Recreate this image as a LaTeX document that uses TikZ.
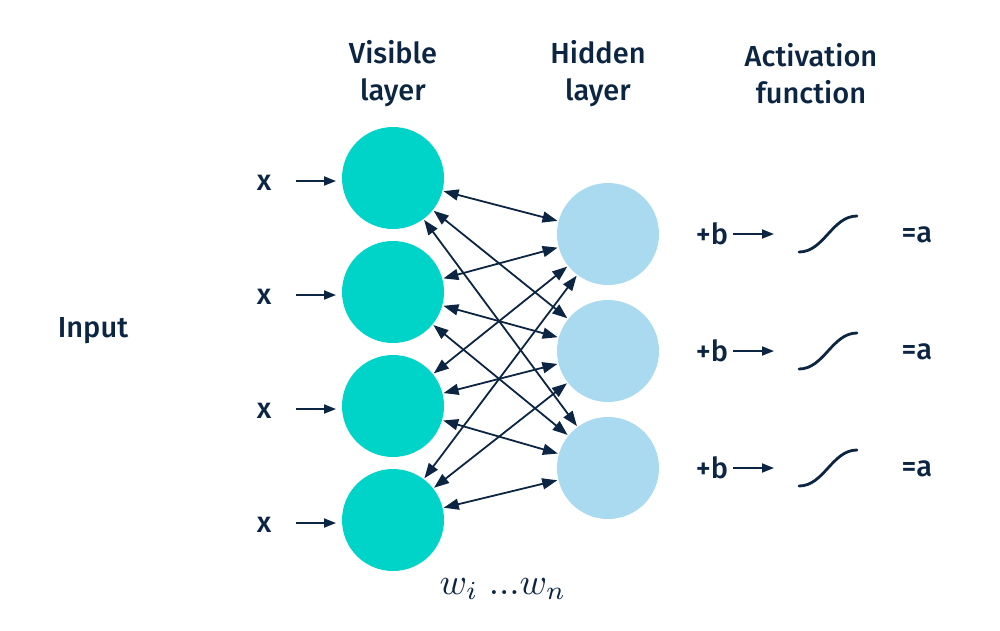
\documentclass[tikz,border=0pt]{standalone}
\usepackage{fontspec}
\setmainfont{Fira Sans}[UprightFont={* Medium}]
\usetikzlibrary{arrows.meta}
\definecolor{navy}{HTML}{0B2542}
\definecolor{vis}{HTML}{00D4C8}
\definecolor{hid}{HTML}{A9DAF0}
\tikzset{
  visnode/.style={circle,fill=vis,minimum size=102pt,inner sep=0pt},
  hidnode/.style={circle,fill=hid,minimum size=102pt,inner sep=0pt},
  lbl/.style={text=navy,font=\fontsize{29}{37}\selectfont,align=center,inner sep=0pt},
  conn/.style={navy,line width=1.8pt,{Triangle[length=15pt,width=11pt]}-{Triangle[length=15pt,width=11pt]},shorten <=1pt,shorten >=1pt},
  inarrow/.style={navy,line width=1.8pt,-{Triangle[length=12pt,width=9pt]}},
  sig/.style={navy,line width=2.8pt,line cap=round}
}
\begin{document}
\begin{tikzpicture}[x=1pt,y=-1pt]
\useasboundingbox (0,0) rectangle (1000,630);
% headers
\node[lbl] (hv) at (393,74) {Visible\\layer};
\node[lbl] (hh) at (598,74) {Hidden\\layer};
\node[lbl] (ha) at (811,74) {Activation\\function};
\node[lbl] (input) at (93,331) {Input};
% visible nodes
\foreach \i/\y in {1/178,2/292,3/406,4/520}{
  \node[visnode] (v\i) at (393,\y) {};
  \node[lbl] (x\i) at (264,\y+5) {x};
  \coordinate (xs\i) at (296,\y+3);
  \coordinate (xe\i) at (336,\y+3);
  \draw[inarrow] (xs\i) -- (xe\i);
}
% hidden nodes
\foreach \j/\y in {1/234,2/351,3/468}{
  \node[hidnode] (h\j) at (608,\y) {};
  \node[lbl] (b\j) at (712,\y) {+b};
  \coordinate (bs\j) at (733,\y);
  \coordinate (be\j) at (774,\y);
  \draw[inarrow] (bs\j) -- (be\j);
  \coordinate (s0\j) at (799,\y+18);
  \coordinate (s1\j) at (857,\y-18);
  \draw[sig] (s0\j) .. controls (824,\y+18) and (832,\y-18) .. (s1\j);
  \node[lbl] (a\j) at (917,\y+1) {=a};
}
% connections
\foreach \i in {1,...,4}{
  \foreach \j in {1,2,3}{
    \draw[conn] (v\i) -- (h\j);
  }
}
\node[text=navy,font=\fontsize{10}{12}\selectfont,inner sep=0pt,scale=3.7] (w) at (503,589) {$w_i\;...w_n$};
\end{tikzpicture}
\end{document}
